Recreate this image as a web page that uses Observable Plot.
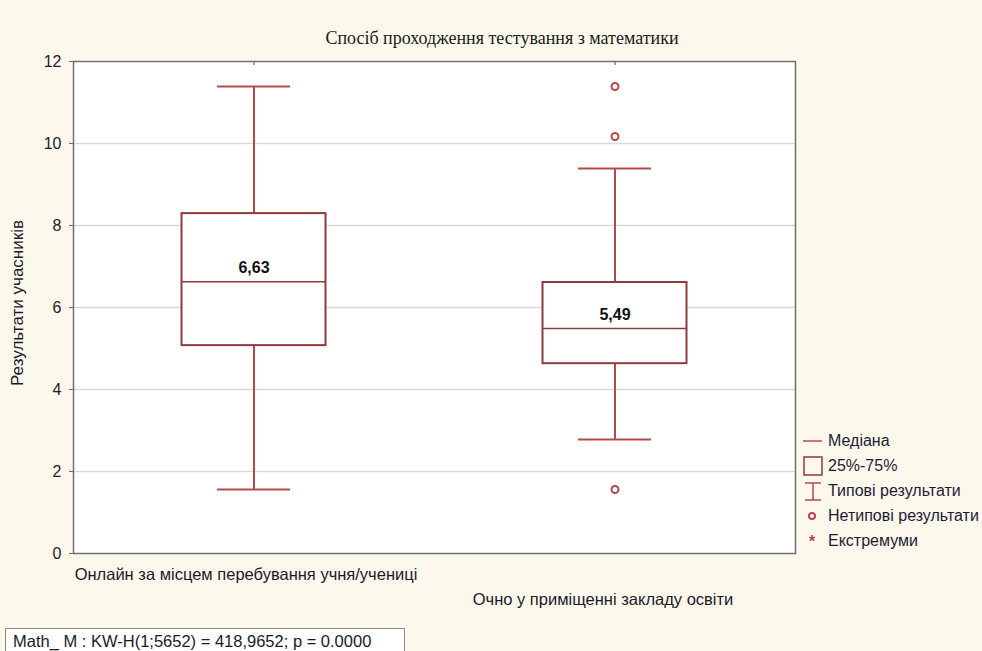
<!DOCTYPE html>
<html>
<head>
<meta charset="utf-8">
<script src="https://cdn.jsdelivr.net/npm/d3@7"></script>
<script src="https://cdn.jsdelivr.net/npm/@observablehq/plot@0.6"></script>
<style>
  html, body { margin: 0; padding: 0; background: #fdf8ec; }
  body { width: 982px; height: 651px; position: relative; overflow: hidden; font-family: "Liberation Sans", Arial, sans-serif; }
  #chart { position: absolute; left: 0; top: 0; }
  #title { position: absolute; left: 0; width: 1004px; top: 28px; text-align: center; font-family: "Liberation Serif", "Times New Roman", serif; font-size: 18px; color: #1a1a1a; }
  #ylabel { position: absolute; left: 18px; top: 303px; transform: translate(-50%, -50%) rotate(-90deg); white-space: nowrap; font-size: 17px; color: #1a1a2a; }
  #legend { position: absolute; left: 802px; top: 428px; font-size: 16px; color: #1c1c36; }
  #legend .row { display: flex; align-items: center; height: 25px; }
  #legend svg { width: 22px; height: 22px; margin-right: 4px; }
  #caption { position: absolute; left: 5px; top: 628px; width: 400px; height: 30px; background: #fff; border: 1px solid #8a8a8a; font-size: 16.5px; color: #1a1a2a; padding-left: 7px; line-height: 24px; box-sizing: border-box; }
</style>
</head>
<body>
<div id="chart"></div>
<div id="title">Спосіб проходження тестування з математики</div>
<div id="ylabel">Результати учасників</div>
<div id="legend"></div>
<div id="caption">Math_ M : KW-H(1;5652) = 418,9652; p = 0.0000</div>
<script>
// ---- data ----
const groups = ["Онлайн за місцем перебування учня/учениці", "Очно у приміщенні закладу освіти"];
const whiskerLow = [1.56, 2.78];
const quartile1 = [5.07, 4.63];
const medians = [6.63, 5.49];
const quartile3 = [8.29, 6.61];
const whiskerHigh = [11.39, 9.39];
const outlierGroup = [1, 1, 1];
const outlierValues = [11.39, 10.17, 1.56];
const yTicks = [0, 2, 4, 6, 8, 10, 12];
const legendLabels = ["Медіана", "25%-75%", "Типові результати", "Нетипові результати", "Екстремуми"];

const boxes = groups.map((g, i) => ({
  g, lo: whiskerLow[i], q1: quartile1[i], med: medians[i], q3: quartile3[i], hi: whiskerHigh[i]
}));
const outliers = outlierValues.map((v, i) => ({ g: groups[outlierGroup[i]], v }));

const red = "#b6484c";
const boxRed = "#8e3a3e";
const fmt = v => v.toFixed(2).replace(".", ",");

const chart = Plot.plot({
  width: 982,
  height: 620,
  marginLeft: 73,
  marginRight: 187,
  marginTop: 61,
  marginBottom: 67,
  style: { background: "transparent", fontFamily: "Liberation Sans, Arial, sans-serif" },
  x: { domain: groups, padding: 0, axis: null },
  y: { domain: [0, 12], axis: null },
  marks: [
    Plot.frame({ fill: "white", stroke: "none" }),
    Plot.gridY(yTicks.filter(t => t > 0 && t < 12), { stroke: "#d9d9d9", strokeOpacity: 1, strokeWidth: 1.5 }),
    Plot.ruleX(boxes, { x: "g", y1: "q3", y2: "hi", stroke: red, strokeWidth: 2 }),
    Plot.ruleX(boxes, { x: "g", y1: "lo", y2: "q1", stroke: red, strokeWidth: 2 }),
    Plot.tickY(boxes, { x: "g", y: "hi", stroke: red, strokeWidth: 2, insetLeft: 144, insetRight: 144 }),
    Plot.tickY(boxes, { x: "g", y: "lo", stroke: red, strokeWidth: 2, insetLeft: 144, insetRight: 144 }),
    Plot.barY(boxes, { x: "g", y1: "q1", y2: "q3", fill: "white", stroke: boxRed, strokeWidth: 2, insetLeft: 108.5, insetRight: 108.5 }),
    Plot.tickY(boxes, { x: "g", y: "med", stroke: boxRed, strokeWidth: 1.5, insetLeft: 108.5, insetRight: 108.5 }),
    Plot.text(boxes, { x: "g", y: "med", text: d => fmt(d.med), dy: -14, fontSize: 16, fontWeight: "bold", fill: "#111" }),
    Plot.dot(outliers, { x: "g", y: "v", r: 3.5, stroke: red, strokeWidth: 2, fill: "white" }),
    Plot.axisY({ ticks: yTicks, tickSize: 4, tickPadding: 8, fontSize: 16, color: "#222", tickFormat: d => String(d), stroke: "#707070", label: null }),
    Plot.axisX({ ticks: [groups[0]], tickSize: 0, tickPadding: 15, fontSize: 16.5, dx: -8, color: "#1a1a2a", label: null }),
    Plot.axisX({ ticks: [groups[1]], tickSize: 0, tickPadding: 40, fontSize: 16.5, dx: -12, color: "#1a1a2a", label: null }),
    Plot.axisX({ anchor: "top", tickSize: -3, tickFormat: () => "", stroke: "#555", label: null }),
    Plot.frame({ stroke: "#6f6f6f", strokeWidth: 1.5 })
  ]
});
document.getElementById("chart").appendChild(chart);

// ---- legend ----
const icons = [
  `<svg viewBox="0 0 22 22"><line x1="1" y1="11" x2="20" y2="11" stroke="${red}" stroke-width="1.5"/></svg>`,
  `<svg viewBox="0 0 22 22"><rect x="2" y="2" width="18" height="18" fill="none" stroke="${boxRed}" stroke-width="1.5"/></svg>`,
  `<svg viewBox="0 0 22 22"><line x1="3" y1="3" x2="19" y2="3" stroke="${red}" stroke-width="1.5"/><line x1="11" y1="3" x2="11" y2="20" stroke="${red}" stroke-width="1.5"/><line x1="3" y1="20" x2="19" y2="20" stroke="${red}" stroke-width="1.5"/></svg>`,
  `<svg viewBox="0 0 22 22"><circle cx="10" cy="11" r="3" fill="white" stroke="${red}" stroke-width="2"/></svg>`,
  `<svg viewBox="0 0 22 22"><text x="10" y="17" text-anchor="middle" font-size="16" font-weight="bold" fill="${red}">*</text></svg>`
];
const legend = document.getElementById("legend");
legendLabels.forEach((lab, i) => {
  const row = document.createElement("div");
  row.className = "row";
  row.innerHTML = icons[i] + `<span>${lab}</span>`;
  legend.appendChild(row);
});
</script>
</body>
</html>
